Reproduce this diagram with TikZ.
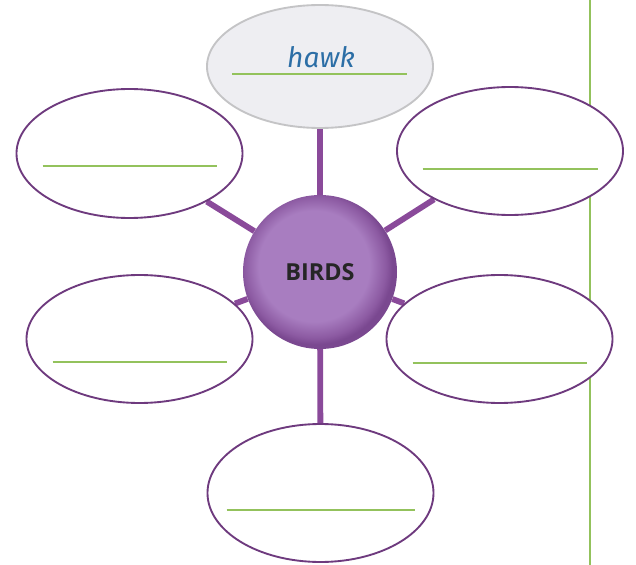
\documentclass[tikz,border=0pt]{standalone}
\usepackage{fontspec}
\setsansfont{Open Sans}
\newfontfamily\hawkfont{Fira Sans}
\usetikzlibrary{shapes.geometric,backgrounds}
\definecolor{bborder}{HTML}{6E3A7E}
\definecolor{blink}{HTML}{8A4A9A}
\definecolor{bgreen}{HTML}{93C25C}
\definecolor{bgrey}{HTML}{C4C4C6}
\definecolor{blight}{HTML}{EEEEF2}
\definecolor{bblue}{HTML}{2C6EA6}
\definecolor{bpur}{HTML}{A87DC0}
\definecolor{bpurdark}{HTML}{8C5AA2}
\definecolor{bpurrim}{HTML}{7A4890}
\definecolor{btext}{HTML}{262626}
\pgfdeclareradialshading{birdsball}{\pgfpoint{-3bp}{3bp}}{color(0bp)=(bpur);color(18bp)=(bpur);color(23bp)=(bpurdark);color(25bp)=(bpurrim);color(50bp)=(bpurrim)}

\begin{document}
\begin{tikzpicture}[x=0.03cm,y=-0.03cm,
  every node/.style={font=\sffamily},
  bubble/.style={ellipse,draw=bborder,line width=1.6pt,fill=white,minimum width=6.78cm,minimum height=3.84cm,inner sep=0pt},
  link/.style={blink,line width=5pt},
  writeline/.style={bgreen,line width=2pt}]
  \useasboundingbox (0,0) rectangle (636,565);
  \node[bubble,draw=bgrey,fill=blight,minimum height=3.69cm] (hawk) at (320,66.5) {};
  \node[text=bblue,font=\hawkfont\itshape\fontsize{24}{28}\selectfont,anchor=base] (hawkword) at (321,68) {hawk};
  \draw[writeline] (232,74) -- (407,74);
  \foreach \n/\cx/\cy/\h/\dy/\hw in {tl/129.5/153.5/3.87/12.5/87, tr/510/151/3.84/18/87.5, ml/139.5/339/3.84/23/87, mr/499.5/339/3.84/24/87, bot/320.5/493/4.14/17/94} {
    \node[bubble,minimum height=\h cm] (\n) at (\cx,\cy) {};
    \draw[writeline] (\cx-\hw,\cy+\dy) -- (\cx+\hw,\cy+\dy);
  }
  \node[circle,minimum size=4.62cm,inner sep=0pt,shade,shading=birdsball,text=btext,font=\sffamily\bfseries\fontsize{20}{24}\selectfont] (birds) at (320,272) {BIRDS};
  \begin{scope}[on background layer]
    \draw[bgreen,line width=2.4pt] (590,0) -- (590,565);
    \foreach \n in {hawk,tl,tr,ml,mr,bot}
      \draw[link] (birds) -- (\n);
  \end{scope}
\end{tikzpicture}
\end{document}
